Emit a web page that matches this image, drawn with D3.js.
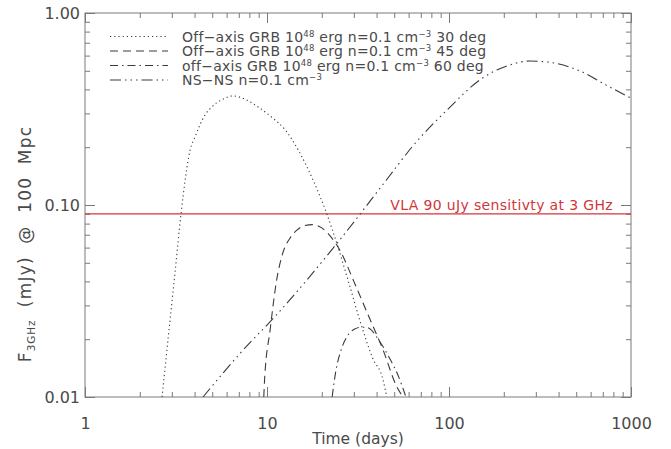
<!DOCTYPE html>
<html><head><meta charset="utf-8">
<script src="https://cdn.jsdelivr.net/npm/d3@7"></script>
<style>
html,body{margin:0;padding:0;background:#fff;}
svg{display:block;font-family:"DejaVu Sans",sans-serif;}
</style></head>
<body><svg id="c" width="671" height="449"></svg>
<script>
// ---- data ----
const t30 = [2.65, 2.86, 3.12, 3.37, 3.78, 4.02, 4.56, 4.97, 5.7, 6.5, 7.6, 8.93, 10.6, 12.6, 15, 17.9, 21.3, 24.2, 28, 32.4, 38, 43.4, 45.5];
const f30 = [0.01, 0.02, 0.044, 0.09, 0.193, 0.226, 0.294, 0.324, 0.355, 0.37, 0.355, 0.324, 0.287, 0.246, 0.19, 0.135, 0.09, 0.063, 0.04, 0.025, 0.016, 0.0123, 0.01];
const t45 = [9.6, 9.7, 10.4, 11.3, 12.2, 13.5, 14.6, 16, 17.9, 20, 22.5, 25.2, 30, 35.5, 43.4, 51.9, 56];
const f45 = [0.01, 0.0123, 0.0223, 0.0407, 0.056, 0.068, 0.074, 0.078, 0.079, 0.076, 0.068, 0.058, 0.04, 0.0275, 0.0176, 0.0112, 0.01];
const t60 = [22.8, 24, 25.2, 27.4, 30.3, 33, 35.5, 41.7, 47, 51.9, 58];
const f60 = [0.01, 0.014, 0.0169, 0.0205, 0.0226, 0.0231, 0.023, 0.0194, 0.016, 0.0133, 0.01];
const tNS = [4.45, 8.06, 10, 24.2, 45.3, 63.3, 97.4, 153, 208, 278, 346, 524, 735, 1000];
const fNS = [0.01, 0.0192, 0.0237, 0.063, 0.135, 0.203, 0.312, 0.459, 0.53, 0.562, 0.556, 0.499, 0.42, 0.36];
const vlaLevel = 0.09;
const xMajor = [1, 10, 100, 1000];
const xMajorLabels = ["1", "10", "100", "1000"];
const yMajor = [0.01, 0.1, 1];
const yMajorLabels = ["0.01", "0.10", "1.00"];
const legendLabels = [
  ["Off\u2212axis GRB 10", "48", " erg n=0.1 cm", "\u22123", " 30 deg"],
  ["Off\u2212axis GRB 10", "48", " erg n=0.1 cm", "\u22123", " 45 deg"],
  ["off\u2212axis GRB 10", "48", " erg n=0.1 cm", "\u22123", " 60 deg"],
  ["NS\u2212NS n=0.1 cm", "\u22123", "", "", ""]
];
const vlaLabel = "VLA 90 uJy sensitivty at 3 GHz";

// ---- layout ----
const L = 85, R = 631, T = 13, B = 397;
const svg = d3.select("#c");
const x = d3.scaleLog().domain([1, 1000]).range([L, R]);
const y = d3.scaleLog().domain([0.01, 1]).range([B, T]);

const axisCol = "#7a7a7a", textCol = "#4a4a4a", lineCol = "#3a3a3a", red = "#d2363b";

const xMinor = [], yMinor = [];
[1, 10, 100].forEach(d => { for (let k = 2; k <= 9; k++) xMinor.push(d * k); });
[0.01, 0.1].forEach(d => { for (let k = 2; k <= 9; k++) yMinor.push(+(d * k).toPrecision(3)); });

function styleAxis(g) {
  g.select(".domain").remove();
  g.selectAll("line").attr("stroke", axisCol).attr("stroke-width", 1);
  g.selectAll("text").attr("fill", textCol).attr("font-size", 16).attr("font-family", "DejaVu Sans, sans-serif");
}
// bottom
svg.append("g").attr("transform", `translate(0,${B})`)
  .call(d3.axisBottom(x).tickValues(xMajor).tickSize(-10).tickPadding(21).tickFormat((d, i) => xMajorLabels[i])).call(styleAxis);
svg.append("g").attr("transform", `translate(0,${B})`)
  .call(d3.axisBottom(x).tickValues(xMinor).tickSize(-5).tickFormat("")).call(styleAxis);
// top
svg.append("g").attr("transform", `translate(0,${T})`)
  .call(d3.axisTop(x).tickValues(xMajor).tickSize(-10).tickFormat("")).call(styleAxis);
svg.append("g").attr("transform", `translate(0,${T})`)
  .call(d3.axisTop(x).tickValues(xMinor).tickSize(-5).tickFormat("")).call(styleAxis);
// left
svg.append("g").attr("transform", `translate(${L},0)`)
  .call(d3.axisLeft(y).tickValues(yMajor).tickSize(-10).tickPadding(5).tickFormat((d, i) => yMajorLabels[i])).call(styleAxis);
svg.append("g").attr("transform", `translate(${L},0)`)
  .call(d3.axisLeft(y).tickValues(yMinor).tickSize(-5).tickFormat("")).call(styleAxis);
// right
svg.append("g").attr("transform", `translate(${R},0)`)
  .call(d3.axisRight(y).tickValues(yMajor).tickSize(-10).tickFormat("")).call(styleAxis);
svg.append("g").attr("transform", `translate(${R},0)`)
  .call(d3.axisRight(y).tickValues(yMinor).tickSize(-5).tickFormat("")).call(styleAxis);

svg.append("rect").attr("x", L).attr("y", T).attr("width", R - L).attr("height", B - T)
  .attr("fill", "none").attr("stroke", axisCol).attr("stroke-width", 1);

// clip
svg.append("clipPath").attr("id", "clip").append("rect").attr("x", L).attr("y", T).attr("width", R - L).attr("height", B - T);
const plot = svg.append("g").attr("clip-path", "url(#clip)");

// VLA line
plot.append("line").attr("x1", x(1)).attr("x2", x(1000)).attr("y1", y(vlaLevel)).attr("y2", y(vlaLevel))
  .attr("stroke", red).attr("stroke-width", 1.3);
svg.append("text").attr("x", 613).attr("y", y(vlaLevel) - 4).attr("text-anchor", "end")
  .attr("fill", red).attr("font-size", 14).attr("letter-spacing", 0.35).text(vlaLabel);

const line = d3.line().x(d => x(d[0])).y(d => y(d[1])).curve(d3.curveMonotoneX);
const series = [
  {t: t30, f: f30, dash: "1.2,3"},
  {t: t45, f: f45, dash: "8,5"},
  {t: t60, f: f60, dash: "8,4,1.5,4"},
  {t: tNS, f: fNS, dash: "11,4,1.5,4,1.5,4,1.5,4"}
];
series.forEach(s => {
  plot.append("path").datum(s.t.map((d, i) => [d, s.f[i]]))
    .attr("d", line).attr("fill", "none").attr("stroke", lineCol).attr("stroke-width", 1.1)
    .attr("stroke-dasharray", s.dash);
});

// legend
const rowsY = [36.5, 51, 65.5, 80];
series.forEach((s, i) => {
  svg.append("line").attr("x1", 110).attr("x2", 168).attr("y1", rowsY[i]).attr("y2", rowsY[i])
    .attr("stroke", lineCol).attr("stroke-width", 1.1).attr("stroke-dasharray", s.dash);
  const tx = svg.append("text").attr("x", 182).attr("y", rowsY[i] + 5).attr("fill", textCol)
    .attr("font-size", 14).attr("letter-spacing", 0.25);
  const parts = legendLabels[i];
  parts.forEach((p, j) => {
    if (!p) return;
    const sup = j % 2 === 1;
    const ts = tx.append("tspan").text(p);
    if (sup) ts.attr("font-size", 8.5).attr("dy", -5);
    else if (j > 0 && parts[j - 1]) ts.attr("dy", 5);
  });
});

// axis titles
svg.append("text").attr("x", (L + R) / 2).attr("y", 444).attr("text-anchor", "middle")
  .attr("fill", textCol).attr("font-size", 15.5).text("Time (days)");
const yt = svg.append("text").attr("transform", "translate(31,244) rotate(-90)").attr("text-anchor", "middle")
  .attr("fill", textCol).attr("font-size", 17).attr("letter-spacing", 1.2).attr("word-spacing", 6);
yt.append("tspan").text("F");
yt.append("tspan").attr("font-size", 10.5).attr("dy", 4).attr("letter-spacing", 0.8).text("3GHz");
yt.append("tspan").attr("dy", -4).text(" (mJy) @ 100 Mpc");
</script></body></html>
